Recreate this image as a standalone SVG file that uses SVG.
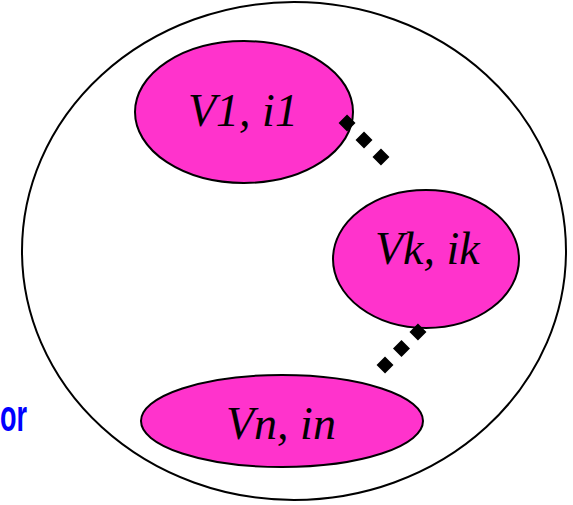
<svg xmlns="http://www.w3.org/2000/svg" width="573" height="505" viewBox="0 0 573 505">
  <style>
    .node { fill: #FF33CC; stroke: #000; stroke-width: 2; }
    .lbl { font-family: "Liberation Serif", "Times New Roman", serif; font-style: italic; font-size: 46px; fill: #000; }
    .dot { stroke: #000; stroke-width: 12; fill: none; stroke-linecap: butt; }
  </style>
  <rect width="573" height="505" fill="#fff"/>
  <g id="outer">
    <ellipse cx="294" cy="251" rx="272" ry="249" fill="none" stroke="#000" stroke-width="2"/>
  </g>
  <text x="0" y="431" textLength="27" lengthAdjust="spacingAndGlyphs" font-family="Liberation Sans, Arial, sans-serif" font-weight="bold" font-size="44" fill="#0000FF">or</text>
  <g id="v1">
    <ellipse class="node" cx="244" cy="112" rx="109" ry="71"/>
    <text class="lbl" x="188" y="126">V1, i1</text>
  </g>
  <g id="vk">
    <ellipse class="node" cx="426" cy="259" rx="93" ry="69"/>
    <text class="lbl" x="375" y="264">Vk, ik</text>
  </g>
  <g id="vn">
    <ellipse class="node" cx="282" cy="421" rx="141" ry="46"/>
    <text class="lbl" x="226" y="439">Vn, in</text>
  </g>
  <g id="connectors">
    <line class="dot" x1="342.8" y1="118.8" x2="385.2" y2="161.2" stroke-dasharray="12 12"/>
    <line class="dot" x1="422.2" y1="327.8" x2="380.8" y2="369.2" stroke-dasharray="12 11.3"/>
  </g>
</svg>
